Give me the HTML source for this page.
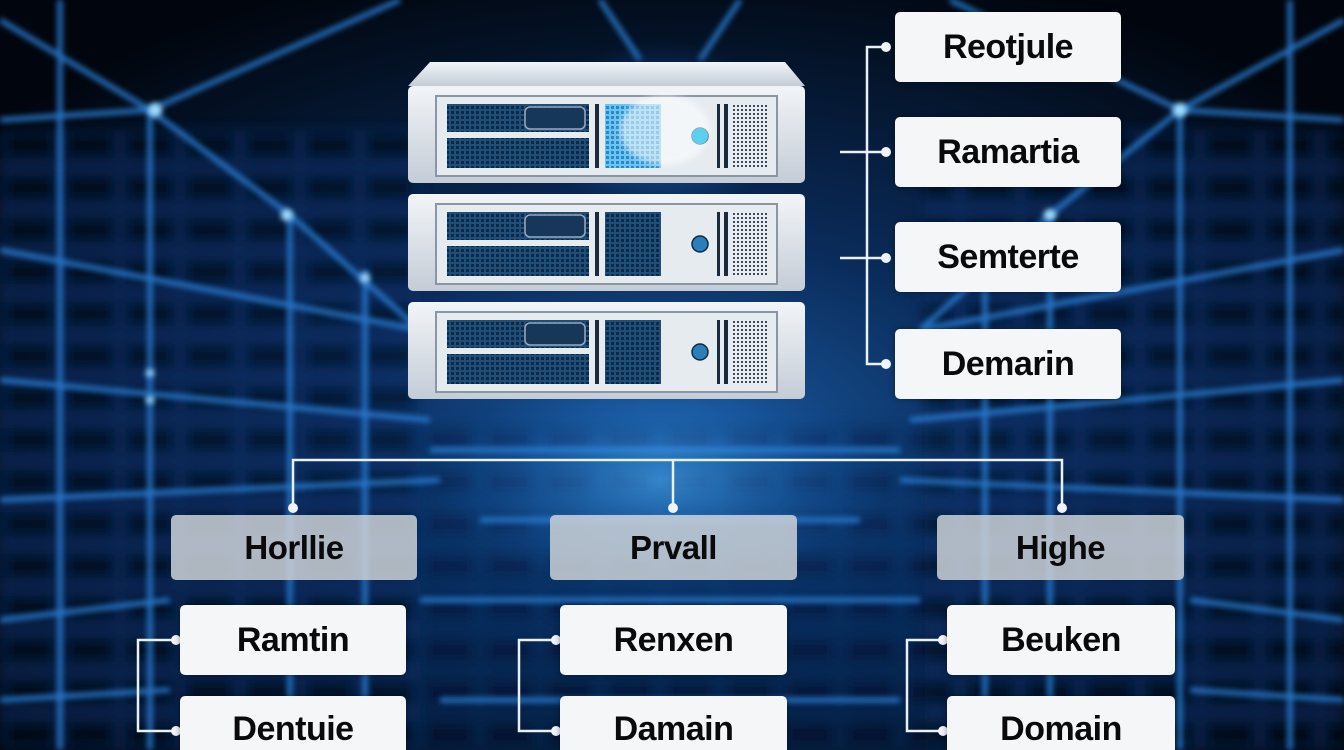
<!DOCTYPE html>
<html><head><meta charset="utf-8"><style>
html,body{margin:0;padding:0;background:#020a18;width:1344px;height:750px;overflow:hidden;}
body{position:relative;font-family:"Liberation Sans",Arial,sans-serif;}
svg{position:absolute;left:0;top:0;}
.box{position:absolute;background:#f4f6f8;border-radius:5px;display:flex;align-items:center;justify-content:center;font-weight:bold;font-size:34px;color:#0a0a0a;box-shadow:0 0 6px rgba(0,0,0,.4);letter-spacing:-0.5px;}
.cat{position:absolute;background:rgba(205,210,216,.85);border-radius:5px;display:flex;align-items:center;justify-content:center;font-weight:bold;font-size:33px;color:#0a0a0a;letter-spacing:-0.5px;}
</style></head><body>
<svg width="1344" height="750" viewBox="0 0 1344 750">
<defs>
<radialGradient id="bg" cx="50%" cy="58%" r="65%">
<stop offset="0" stop-color="#1a5aa0"/><stop offset=".4" stop-color="#0a2c5c"/><stop offset="1" stop-color="#01060e"/>
</radialGradient>
<radialGradient id="glow" cx="50%" cy="50%" r="50%">
<stop offset="0" stop-color="#4fb4ff" stop-opacity=".9"/><stop offset="1" stop-color="#1060c0" stop-opacity="0"/>
</radialGradient>
<filter id="bl"><feGaussianBlur stdDeviation="3"/></filter>
<filter id="bl3"><feGaussianBlur stdDeviation="6"/></filter>
<pattern id="mesh" width="5" height="5" patternUnits="userSpaceOnUse"><rect width="5" height="5" fill="#1f4f78"/><rect x="1" y="1" width="3" height="3" fill="#0c2a48"/></pattern>
<pattern id="mesh2" width="5" height="5" patternUnits="userSpaceOnUse"><rect width="5" height="5" fill="#6cc4f0"/><rect x="1" y="1" width="3" height="3" fill="#2a86c8"/></pattern>
<pattern id="mesh3" width="4" height="4" patternUnits="userSpaceOnUse"><rect width="4" height="4" fill="#e8ecf0"/><rect x="1" y="1" width="2" height="2" fill="#3a4a5a"/></pattern>
<linearGradient id="metal" x1="0" y1="0" x2="0" y2="1"><stop offset="0" stop-color="#f2f5f8"/><stop offset="1" stop-color="#c4ccd6"/></linearGradient>
<pattern id="shelf" width="60" height="42" patternUnits="userSpaceOnUse"><rect width="60" height="42" fill="#0b2f66"/><rect x="6" y="8" width="48" height="24" fill="#020916"/></pattern>
</defs>
<rect width="1344" height="750" fill="url(#bg)"/>
<g filter="url(#bl3)" opacity=".55">
<rect x="0" y="130" width="420" height="620" fill="url(#shelf)"/>
<rect x="925" y="130" width="419" height="620" fill="url(#shelf)"/>
<rect x="420" y="420" width="505" height="330" fill="url(#shelf)" opacity=".5"/>
</g>
<g filter="url(#bl)" stroke="#2a80d8" stroke-width="5" fill="none" opacity=".9">
<path d="M0 20 L150 110 L400 0 M150 110 L150 750 M0 120 L150 110 M150 110 L290 215 L290 750 M290 215 L420 330 M365 270 L365 750 M0 250 L420 330 M0 380 L430 420 M0 500 L440 480 M0 620 L170 600 M0 700 L170 690 M60 0 L60 750"/>
<path d="M1344 20 L1180 110 L950 0 M1180 110 L1180 750 M1344 120 L1180 110 M1180 110 L1050 215 L1050 750 M1050 215 L920 330 M985 270 L985 750 M1344 250 L920 330 M1344 380 L910 420 M1344 500 L900 480 M1344 620 L1190 600 M1344 700 L1190 690 M1290 0 L1290 750"/>
<path d="M600 0 L640 60 M740 0 L700 60 M430 450 L900 450 M480 520 L860 520 M420 600 L920 600 M440 700 L900 700"/>
</g>
<g fill="#9fdcff" filter="url(#bl)">
<circle cx="155" cy="110" r="7"/><circle cx="287" cy="215" r="6"/><circle cx="365" cy="278" r="5"/><circle cx="1180" cy="110" r="7"/><circle cx="1050" cy="215" r="6"/><circle cx="150" cy="373" r="4"/><circle cx="150" cy="400" r="4"/>
</g>
<ellipse cx="660" cy="480" rx="230" ry="110" fill="url(#glow)" opacity=".65"/>
<ellipse cx="660" cy="130" rx="120" ry="90" fill="url(#glow)" opacity=".6"/>
<path d="M430 62 L785 62 L805 86 L408 86 Z" fill="url(#metal)"/>
<g id="u">
<rect x="408" y="86" width="397" height="97" rx="5" fill="url(#metal)"/>
<rect x="436" y="96" width="341" height="80" fill="#e6ebf0" stroke="#8a96a4" stroke-width="2"/>
<rect x="447" y="104" width="142" height="28" fill="url(#mesh)"/>
<rect x="525" y="107" width="60" height="22" rx="5" fill="#16365a" stroke="#9ab" stroke-width="1.5"/>
<rect x="447" y="138" width="142" height="30" fill="url(#mesh)"/>
<rect x="595" y="104" width="4" height="64" fill="#1a2a3a"/>
<rect x="605" y="104" width="56" height="64" fill="url(#mesh)"/>
<circle cx="700" cy="136" r="8" fill="#2a7fb8" stroke="#0b2a44" stroke-width="1.5"/>
<rect x="717" y="104" width="3" height="64" fill="#1a2a3a"/><rect x="724" y="104" width="4" height="64" fill="#1a2a3a"/>
<rect x="732" y="104" width="35" height="64" fill="url(#mesh3)"/>
</g>
<use href="#u" y="108"/>
<use href="#u" y="216"/>
<rect x="605" y="104" width="56" height="64" fill="url(#mesh2)"/>
<ellipse cx="665" cy="130" rx="45" ry="35" fill="#ffffff" opacity=".55" filter="url(#bl)"/>
<circle cx="700" cy="136" r="8" fill="#5cd0f0"/>
<g stroke="#e8f0f8" stroke-width="2.5" fill="none">
<path d="M886 47 L867 47 L867 364 L886 364 M840 152 L886 152 M840 258 L886 258"/>
<path d="M293 505 L293 460 L1062 460 L1062 505 M673 460 L673 505"/>
<path d="M174 640 L138 640 L138 731 L174 731 M554 640 L519 640 L519 731 L554 731 M941 640 L907 640 L907 731 L941 731"/>
</g>
<g fill="#eef4fa">
<circle cx="886" cy="47" r="5"/><circle cx="886" cy="152" r="5"/><circle cx="886" cy="258" r="5"/><circle cx="886" cy="364" r="5"/>
<circle cx="293" cy="508" r="5"/><circle cx="673" cy="508" r="5"/><circle cx="1062" cy="508" r="5"/>
<circle cx="176" cy="640" r="5"/><circle cx="176" cy="731" r="5"/><circle cx="556" cy="640" r="5"/><circle cx="556" cy="731" r="5"/><circle cx="943" cy="640" r="5"/><circle cx="943" cy="731" r="5"/>
</g>
</svg>
<div class="box" style="left:895px;top:12px;width:226px;height:70px">Reotjule</div>
<div class="box" style="left:895px;top:117px;width:226px;height:70px">Ramartia</div>
<div class="box" style="left:895px;top:222px;width:226px;height:70px">Semterte</div>
<div class="box" style="left:895px;top:329px;width:226px;height:70px">Demarin</div>
<div class="cat" style="left:171px;top:515px;width:246px;height:65px">Horllie</div>
<div class="cat" style="left:550px;top:515px;width:247px;height:65px">Prvall</div>
<div class="cat" style="left:937px;top:515px;width:247px;height:65px">Highe</div>
<div class="box" style="left:180px;top:605px;width:226px;height:70px">Ramtin</div>
<div class="box" style="left:560px;top:605px;width:227px;height:70px">Renxen</div>
<div class="box" style="left:947px;top:605px;width:228px;height:70px">Beuken</div>
<div class="box" style="left:180px;top:696px;width:226px;height:54px;border-radius:5px 5px 0 0;align-items:flex-start;padding-top:14px;box-sizing:border-box">Dentuie</div>
<div class="box" style="left:560px;top:696px;width:227px;height:54px;border-radius:5px 5px 0 0;align-items:flex-start;padding-top:14px;box-sizing:border-box">Damain</div>
<div class="box" style="left:947px;top:696px;width:228px;height:54px;border-radius:5px 5px 0 0;align-items:flex-start;padding-top:14px;box-sizing:border-box">Domain</div>
</body></html>
